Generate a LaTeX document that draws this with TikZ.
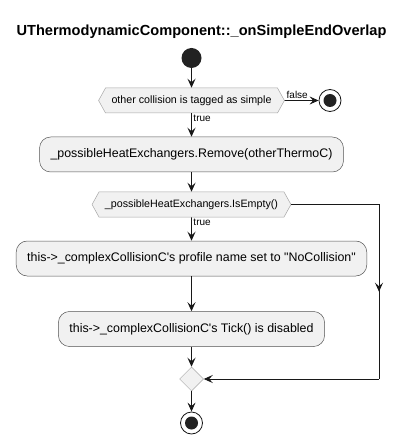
\documentclass[tikz,border=0pt]{standalone}
\usepackage{fontspec}
\setmainfont{Liberation Sans}[Ligatures=TeXOff]
\usetikzlibrary{arrows.meta,shapes.symbols,shapes.geometric,decorations.markings}

\definecolor{boxfill}{HTML}{F1F1F1}
\definecolor{edgeline}{HTML}{181818}
\definecolor{dotfill}{HTML}{222222}

\begin{document}
\begin{tikzpicture}[x=1pt, y=-1pt, >={Stealth[length=9pt,width=8pt,inset=3.5pt]},
  action/.style={draw=edgeline!75, fill=boxfill, rounded corners=11pt, minimum height=35pt,
    inner xsep=11pt, line width=0.5pt, font=\fontsize{12.4}{14}\selectfont},
  decision/.style={signal, signal to=east and west, signal pointer angle=122, draw=gray!70,
    fill=boxfill, minimum height=25pt, inner xsep=6pt, line width=0.5pt, font=\fontsize{10.7}{12}\selectfont},
  merge/.style={diamond, draw=gray!70, fill=boxfill, minimum width=24pt, minimum height=24pt,
    inner sep=0pt, line width=0.5pt},
  startdot/.style={circle, fill=dotfill, minimum size=20pt, inner sep=0pt},
  enddot/.style={circle, draw=edgeline, fill=white, line width=0.8pt, minimum size=22pt, inner sep=0pt,
    path picture={\fill[dotfill] (path picture bounding box.center) circle (6.5pt);}},
  flow/.style={->, draw=edgeline, line width=0.9pt},
  guard/.style={font=\fontsize{10}{11}\selectfont, inner sep=1.5pt}]
\useasboundingbox (0,0) rectangle (403,443);

\node [font=\bfseries\fontsize{14.6}{16}\selectfont] (title) at (201.5,32) {UThermodynamicComponent::\_onSimpleEndOverlap};

\node [startdot] (start) at (191.5,58) {};
\node [decision] (simple) at (191.5,100.5) {other collision is tagged as simple};
\node [enddot] (stopA) at (330,100.5) {};
\node [action] (remove) at (191.5,154.5) {\_possibleHeatExchangers.Remove(otherThermoC)};
\node [decision] (empty) at (191.5,204.5) {\_possibleHeatExchangers.IsEmpty()};
\node [action] (profile) at (191.5,258.5) {this->\_complexCollisionC's profile name set to "NoCollision"};
\node [action] (tick) at (191.5,329) {this->\_complexCollisionC's Tick() is disabled};
\node [merge] (join) at (191.5,379) {};
\node [enddot] (stopB) at (191.5,423) {};
\coordinate (turnA) at (379,204.5);
\coordinate (turnB) at (379,379);

\draw [flow] (start) -- (simple);
\draw [flow] (simple) -- node [guard, anchor=south west, pos=0] {false} (stopA);
\draw [flow] (simple) -- node [guard, anchor=north west, pos=0] {true} (remove);
\draw [flow] (remove) -- (empty);
\draw [flow] (empty) -- node [guard, anchor=north west, pos=0] {true} (profile);
\draw [flow] (profile) -- (tick);
\draw [flow] (tick) -- (join);
\draw [flow] (join) -- (stopB);
\begin{scope}[draw=edgeline, line width=0.9pt, decoration={
    markings,
    mark=at position 0.5 with {\arrow{>}}}
    ]
    \draw (empty.east) -- (turnA);
    \draw [postaction={decorate}] (turnA) -- (turnB);
    \draw [->] (turnB) -- (join.east);
\end{scope}
\end{tikzpicture}
\end{document}
